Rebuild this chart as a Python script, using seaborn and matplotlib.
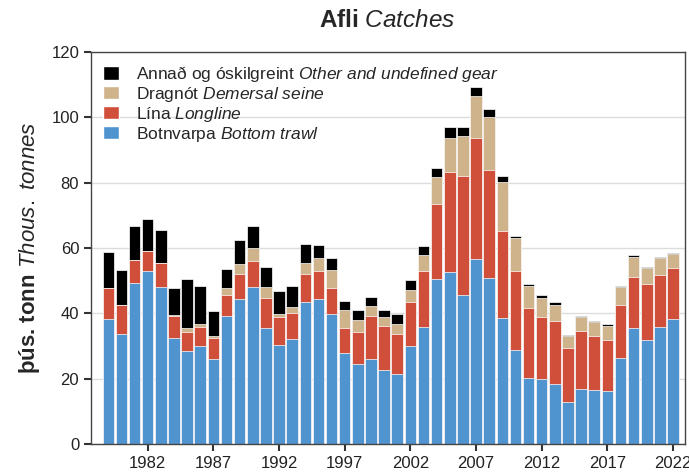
import numpy as np
import pandas as pd
import seaborn as sns
import matplotlib.pyplot as plt
from matplotlib.patches import Patch

## Data (thousand tonnes)
years = list(range(1979, 2023))
botnvarpa = [38.3, 33.7, 49.2, 52.8, 48.2, 32.6, 28.4, 29.9, 26.0, 39.3,
             44.4, 48.0, 35.6, 30.4, 32.0, 43.4, 44.4, 39.9, 27.8, 24.5,
             26.0, 22.8, 21.6, 30.0, 35.9, 50.4, 52.7, 45.5, 56.6, 50.8,
             38.6, 28.9, 20.3, 20.0, 18.5, 13.0, 17.0, 16.7, 16.1, 26.2,
             35.5, 31.7, 35.7, 38.3]
lina = [9.5, 9.0, 7.2, 6.4, 7.3, 6.5, 6.0, 6.0, 6.4, 6.2,
        7.6, 8.0, 9.0, 8.4, 8.1, 8.6, 8.5, 7.8, 7.7, 9.8,
        13.3, 13.3, 12.1, 13.6, 17.2, 23.1, 30.6, 36.5, 37.1, 32.9,
        26.6, 24.0, 21.3, 18.9, 19.3, 16.3, 17.6, 16.3, 15.8, 16.4,
        15.6, 17.3, 15.9, 15.7]
dragnot = [0.0, 0.0, 0.0, 0.0, 0.0, 0.5, 1.1, 0.9, 0.8, 2.1,
           3.2, 3.9, 3.4, 1.0, 1.8, 3.5, 4.0, 5.5, 5.4, 3.8,
           2.9, 2.8, 2.9, 3.5, 4.8, 8.2, 10.4, 12.3, 12.8, 16.5,
           15.1, 10.0, 6.7, 5.9, 4.8, 3.8, 4.3, 4.3, 4.3, 5.4,
           6.1, 5.0, 5.2, 4.0]
annad = [11.1, 10.7, 10.3, 9.7, 10.0, 8.2, 15.1, 11.6, 7.5, 6.1,
         7.1, 6.8, 6.2, 6.9, 6.5, 5.8, 4.1, 3.6, 2.8, 3.0,
         2.8, 2.0, 3.1, 3.0, 2.7, 2.9, 3.2, 2.7, 2.7, 2.2,
         1.6, 0.8, 0.7, 0.9, 0.9, 0.4, 0.3, 0.5, 0.5, 0.5,
         0.5, 0.3, 0.5, 0.4]
tick_years = [1982, 1987, 1992, 1997, 2002, 2007, 2012, 2017, 2022]

labels = ["Annað og óskilgreint $\\it{Other\\ and\\ undefined\\ gear}$",
          "Dragnót $\\it{Demersal\\ seine}$",
          "Lína $\\it{Longline}$",
          "Botnvarpa $\\it{Bottom\\ trawl}$"]
colors = ["#000000", "#cfb38a", "#cf4f3b", "#4f93cf"]

df = pd.DataFrame({"year": years, "botnvarpa": botnvarpa, "lina": lina,
                   "dragnot": dragnot, "annad": annad})
df["c1"] = df["botnvarpa"]
df["c2"] = df["c1"] + df["lina"]
df["c3"] = df["c2"] + df["dragnot"]
df["c4"] = df["c3"] + df["annad"]

sns.set_style("white")
plt.rcParams["font.family"] = ["Liberation Sans", "DejaVu Sans"]
plt.rcParams["mathtext.fontset"] = "custom"
plt.rcParams["mathtext.rm"] = "Liberation Sans"
plt.rcParams["mathtext.it"] = "Liberation Sans:italic"
plt.rcParams["mathtext.bf"] = "Liberation Sans:bold"

fig = plt.figure(figsize=(6.89, 4.75), dpi=100)
ax = fig.add_axes([0.132, 0.065, 0.862, 0.826])

# stacked bars drawn as cumulative totals, tallest first
for col, c in zip(["c4", "c3", "c2", "c1"], colors):
    sns.barplot(data=df, x="year", y=col, color=c, width=0.88,
                edgecolor="white", linewidth=0.5, saturation=1, ax=ax,
                zorder=2)

ax.set_xlim(-1.32, 43.9)
ax.set_ylim(0, 120)
ax.set_yticks(range(0, 121, 20))
ax.set_xticks([years.index(y) for y in tick_years])
ax.set_xticklabels([str(y) for y in tick_years])
ax.yaxis.grid(True, color="#dcdcdc", linewidth=1, zorder=0)
ax.set_axisbelow(True)
for s in ax.spines.values():
    s.set_color("#444444")
    s.set_linewidth(1)
ax.tick_params(axis="both", direction="out", length=5, width=1.5,
               color="#333333", labelsize=12, labelcolor="#222222",
               bottom=True, left=True)
ax.set_xlabel("")
ax.set_ylabel("þús. tonn $\\it{Thous.\\ tonnes}$", fontsize=16,
              fontweight="bold", labelpad=7)

fig.text(0.562, 0.957, "Afli $\\it{Catches}$", fontsize=17.5,
         fontweight="bold", ha="center", va="center")

handles = [Patch(facecolor=c, edgecolor="white") for c in colors]
ax.legend(handles, labels, loc="upper left", frameon=False, fontsize=12.5,
          handlelength=0.9, handleheight=0.8, handletextpad=1.0,
          labelspacing=0.05, borderaxespad=0.3, bbox_to_anchor=(0.0, 1.0))

fig.savefig("out.png", dpi=100)
